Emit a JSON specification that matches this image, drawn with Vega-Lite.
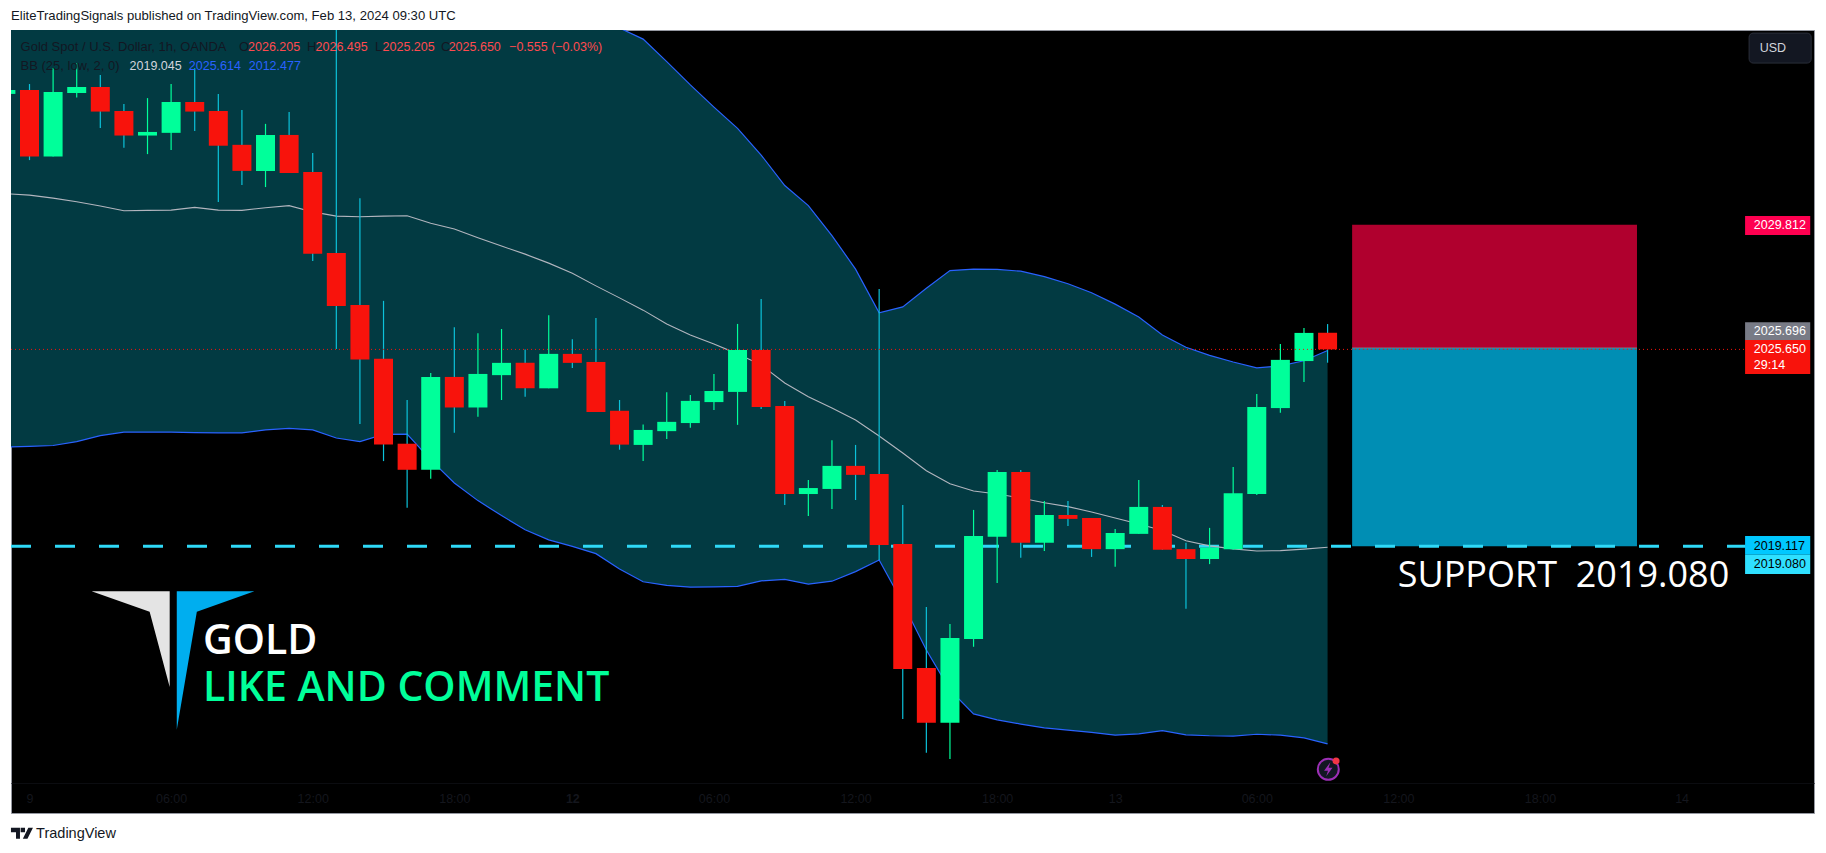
{"$schema":"https://vega.github.io/schema/vega-lite/v6.json","width":1803,"height":783,"autosize":"none","padding":{"left":11,"top":30,"right":12,"bottom":40},"background":"#ffffff","view":{"fill":"#000000","stroke":"#9598a1","strokeWidth":1},"title":{"text":"EliteTradingSignals published on TradingView.com, Feb 13, 2024 09:30 UTC","anchor":"start","frame":"group","offset":7,"font":"Liberation Sans","fontSize":13.1,"fontWeight":"normal","color":"#131722"},"config":{"axis":{"grid":false,"ticks":false,"title":null,"labelFont":"Liberation Sans","labelFontSize":12.5,"labelColor":"#14161d","domainColor":"#0b0c10"}},"resolve":{"scale":{"color":"independent"}},"datasets":{"candles":[{"bar":0,"o":2034.18,"h":2034.31,"l":2034.18,"c":2034.31,"upper":2039.32,"basis":2030.85,"lower":2022.39},{"bar":1,"o":2034.31,"h":2034.51,"l":2031.97,"c":2032.09,"upper":2039.2,"basis":2030.8,"lower":2022.41},{"bar":2,"o":2032.09,"h":2035.04,"l":2032.09,"c":2034.24,"upper":2038.96,"basis":2030.7,"lower":2022.44},{"bar":3,"o":2034.21,"h":2035.2,"l":2034.06,"c":2034.41,"upper":2038.58,"basis":2030.58,"lower":2022.57},{"bar":4,"o":2034.41,"h":2034.81,"l":2033.04,"c":2033.59,"upper":2038.1,"basis":2030.44,"lower":2022.77},{"bar":5,"o":2033.61,"h":2033.84,"l":2032.38,"c":2032.79,"upper":2037.67,"basis":2030.28,"lower":2022.89},{"bar":6,"o":2032.79,"h":2034.04,"l":2032.17,"c":2032.91,"upper":2037.68,"basis":2030.29,"lower":2022.89},{"bar":7,"o":2032.88,"h":2034.51,"l":2032.31,"c":2033.91,"upper":2037.72,"basis":2030.3,"lower":2022.89},{"bar":8,"o":2033.91,"h":2035.04,"l":2032.94,"c":2033.59,"upper":2037.9,"basis":2030.39,"lower":2022.87},{"bar":9,"o":2033.61,"h":2034.18,"l":2030.57,"c":2032.45,"upper":2037.75,"basis":2030.3,"lower":2022.86},{"bar":10,"o":2032.48,"h":2033.64,"l":2031.14,"c":2031.61,"upper":2037.73,"basis":2030.29,"lower":2022.86},{"bar":11,"o":2031.61,"h":2033.18,"l":2031.07,"c":2032.81,"upper":2037.8,"basis":2030.38,"lower":2022.96},{"bar":12,"o":2032.81,"h":2033.58,"l":2031.54,"c":2031.54,"upper":2037.88,"basis":2030.45,"lower":2023.01},{"bar":13,"o":2031.57,"h":2032.21,"l":2028.6,"c":2028.84,"upper":2037.52,"basis":2030.24,"lower":2022.96},{"bar":14,"o":2028.87,"h":2036.6,"l":2025.66,"c":2027.1,"upper":2037.52,"basis":2030.1,"lower":2022.69},{"bar":15,"o":2027.13,"h":2030.7,"l":2023.16,"c":2025.31,"upper":2037.58,"basis":2030.08,"lower":2022.57},{"bar":16,"o":2025.34,"h":2027.27,"l":2021.92,"c":2022.47,"upper":2037.4,"basis":2030.1,"lower":2022.81},{"bar":17,"o":2022.5,"h":2023.96,"l":2020.36,"c":2021.63,"upper":2037.4,"basis":2030.11,"lower":2022.82},{"bar":18,"o":2021.63,"h":2024.86,"l":2021.33,"c":2024.73,"upper":2037.76,"basis":2029.86,"lower":2021.96},{"bar":19,"o":2024.73,"h":2026.39,"l":2022.87,"c":2023.71,"upper":2038.15,"basis":2029.67,"lower":2021.19},{"bar":20,"o":2023.71,"h":2026.19,"l":2023.4,"c":2024.83,"upper":2038.16,"basis":2029.38,"lower":2020.6},{"bar":21,"o":2024.79,"h":2026.33,"l":2023.96,"c":2025.2,"upper":2038.1,"basis":2029.1,"lower":2020.1},{"bar":22,"o":2025.2,"h":2025.65,"l":2024.07,"c":2024.35,"upper":2038.04,"basis":2028.83,"lower":2019.63},{"bar":23,"o":2024.35,"h":2026.79,"l":2024.35,"c":2025.5,"upper":2037.78,"basis":2028.53,"lower":2019.29},{"bar":24,"o":2025.5,"h":2025.99,"l":2025.03,"c":2025.2,"upper":2037.32,"basis":2028.19,"lower":2019.07},{"bar":25,"o":2025.23,"h":2026.7,"l":2023.56,"c":2023.56,"upper":2036.7,"basis":2027.77,"lower":2018.83},{"bar":26,"o":2023.6,"h":2023.96,"l":2022.3,"c":2022.47,"upper":2036.38,"basis":2027.37,"lower":2018.32},{"bar":27,"o":2022.46,"h":2023.14,"l":2021.92,"c":2022.96,"upper":2036.01,"basis":2026.96,"lower":2017.89},{"bar":28,"o":2022.92,"h":2024.22,"l":2022.66,"c":2023.23,"upper":2035.26,"basis":2026.5,"lower":2017.77},{"bar":29,"o":2023.19,"h":2024.13,"l":2023.03,"c":2023.93,"upper":2034.48,"basis":2026.13,"lower":2017.71},{"bar":30,"o":2023.89,"h":2024.83,"l":2023.63,"c":2024.26,"upper":2033.74,"basis":2025.83,"lower":2017.72},{"bar":31,"o":2024.23,"h":2026.5,"l":2023.13,"c":2025.63,"upper":2033.03,"basis":2025.5,"lower":2017.74},{"bar":32,"o":2025.63,"h":2027.33,"l":2023.66,"c":2023.73,"upper":2032.14,"basis":2025.13,"lower":2017.92},{"bar":33,"o":2023.76,"h":2023.93,"l":2020.45,"c":2020.82,"upper":2031.12,"basis":2024.53,"lower":2017.97},{"bar":34,"o":2020.82,"h":2021.29,"l":2020.09,"c":2021.02,"upper":2030.45,"basis":2024.07,"lower":2017.81},{"bar":35,"o":2020.99,"h":2022.62,"l":2020.32,"c":2021.76,"upper":2029.45,"basis":2023.69,"lower":2017.91},{"bar":36,"o":2021.76,"h":2022.46,"l":2020.62,"c":2021.46,"upper":2028.33,"basis":2023.29,"lower":2018.23},{"bar":37,"o":2021.49,"h":2027.67,"l":2018.62,"c":2019.12,"upper":2026.87,"basis":2022.76,"lower":2018.62},{"bar":38,"o":2019.15,"h":2020.45,"l":2013.31,"c":2014.98,"upper":2027.07,"basis":2022.19,"lower":2017.18},{"bar":39,"o":2015.01,"h":2017.05,"l":2012.18,"c":2013.18,"upper":2027.69,"basis":2021.6,"lower":2015.61},{"bar":40,"o":2013.18,"h":2016.48,"l":2011.97,"c":2016.01,"upper":2028.28,"basis":2021.16,"lower":2014.28},{"bar":41,"o":2015.98,"h":2020.29,"l":2015.72,"c":2019.42,"upper":2028.33,"basis":2020.92,"lower":2013.48},{"bar":42,"o":2019.39,"h":2021.62,"l":2017.85,"c":2021.56,"upper":2028.32,"basis":2020.82,"lower":2013.28},{"bar":43,"o":2021.56,"h":2021.62,"l":2018.69,"c":2019.19,"upper":2028.26,"basis":2020.69,"lower":2013.14},{"bar":44,"o":2019.19,"h":2020.59,"l":2018.92,"c":2020.12,"upper":2028.08,"basis":2020.53,"lower":2013.01},{"bar":45,"o":2020.12,"h":2020.59,"l":2019.75,"c":2019.99,"upper":2027.84,"basis":2020.4,"lower":2012.94},{"bar":46,"o":2020.02,"h":2020.02,"l":2018.72,"c":2018.98,"upper":2027.54,"basis":2020.22,"lower":2012.86},{"bar":47,"o":2018.98,"h":2019.65,"l":2018.39,"c":2019.52,"upper":2027.16,"basis":2020.02,"lower":2012.77},{"bar":48,"o":2019.49,"h":2021.29,"l":2019.49,"c":2020.39,"upper":2026.73,"basis":2019.82,"lower":2012.81},{"bar":49,"o":2020.39,"h":2020.45,"l":2018.96,"c":2018.96,"upper":2026.13,"basis":2019.6,"lower":2012.92},{"bar":50,"o":2018.98,"h":2019.19,"l":2016.99,"c":2018.65,"upper":2025.72,"basis":2019.26,"lower":2012.78},{"bar":51,"o":2018.65,"h":2019.69,"l":2018.48,"c":2019.03,"upper":2025.45,"basis":2019.09,"lower":2012.75},{"bar":52,"o":2018.98,"h":2021.72,"l":2018.96,"c":2020.85,"upper":2025.23,"basis":2018.99,"lower":2012.74},{"bar":53,"o":2020.82,"h":2024.16,"l":2020.79,"c":2023.73,"upper":2025.03,"basis":2018.92,"lower":2012.8},{"bar":54,"o":2023.69,"h":2025.83,"l":2023.53,"c":2025.3,"upper":2025.1,"basis":2018.93,"lower":2012.77},{"bar":55,"o":2025.26,"h":2026.36,"l":2024.56,"c":2026.2,"upper":2025.27,"basis":2018.98,"lower":2012.68},{"bar":56,"o":2026.205,"h":2026.495,"l":2025.205,"c":2025.65,"upper":2025.614,"basis":2019.045,"lower":2012.477}],"position":[{"bar":57.04,"barEnd":69.11,"price":2029.812,"priceEnd":2025.696,"zone":"stop"},{"bar":57.04,"barEnd":69.11,"price":2025.696,"priceEnd":2019.08,"zone":"target"}],"entry":[{"bar":57.04,"barEnd":69.11,"price":2025.696}],"support":[{"bar":0.216,"barEnd":73.72,"price":2019.08}],"last":[{"bar":0.216,"barEnd":73.72,"price":2025.65}],"tags":[{"bar":73.69,"barEnd":76.45,"price":2030.1,"priceEnd":2029.47,"kind":"stop"},{"bar":73.69,"barEnd":76.45,"price":2026.56,"priceEnd":2025.96,"kind":"entry"},{"bar":73.69,"barEnd":76.45,"price":2025.96,"priceEnd":2024.83,"kind":"last"},{"bar":73.69,"barEnd":76.45,"price":2019.42,"priceEnd":2018.79,"kind":"level"},{"bar":73.69,"barEnd":76.45,"price":2018.79,"priceEnd":2018.15,"kind":"support"}],"button":[{"bar":73.86,"barEnd":76.49,"price":2036.21,"priceEnd":2035.21}],"labels":[{"bar":0.62,"price":2035.76,"text":"Gold Spot / U.S. Dollar, 1h, OANDA","role":"ink"},{"bar":9.88,"price":2035.76,"text":"O","role":"ink"},{"bar":10.26,"price":2035.76,"text":"2026.205","role":"red"},{"bar":12.76,"price":2035.76,"text":"H","role":"ink"},{"bar":13.12,"price":2035.76,"text":"2026.495","role":"red"},{"bar":15.64,"price":2035.76,"text":"L","role":"ink"},{"bar":15.96,"price":2035.76,"text":"2025.205","role":"red"},{"bar":18.44,"price":2035.76,"text":"C","role":"ink"},{"bar":18.76,"price":2035.76,"text":"2025.650","role":"red"},{"bar":21.32,"price":2035.76,"text":"−0.555 (−0.03%)","role":"red"},{"bar":0.62,"price":2035.12,"text":"BB (25, low, 2, 0)","role":"ink"},{"bar":5.24,"price":2035.12,"text":"2019.045","role":"pale"},{"bar":7.75,"price":2035.12,"text":"2025.614","role":"blue"},{"bar":10.29,"price":2035.12,"text":"2012.477","role":"blue"},{"bar":74.31,"price":2035.7,"text":"USD","role":"pale"},{"bar":74.06,"price":2029.79,"text":"2029.812","role":"white"},{"bar":74.06,"price":2026.26,"text":"2025.696","role":"white"},{"bar":74.06,"price":2025.65,"text":"2025.650","role":"white"},{"bar":74.06,"price":2025.14,"text":"29:14","role":"white"},{"bar":74.06,"price":2019.1,"text":"2019.117","role":"black"},{"bar":74.06,"price":2018.47,"text":"2019.080","role":"black"}],"logoGrey":[{"bar":3.63,"price":2017.57,"priceEnd":2017.57},{"bar":6.09,"price":2017.57,"priceEnd":2016.89},{"bar":6.94,"price":2017.57,"priceEnd":2014.38}],"logoBlue":[{"bar":7.24,"price":2017.57,"priceEnd":2012.95},{"bar":8.09,"price":2017.57,"priceEnd":2016.89},{"bar":10.53,"price":2017.57,"priceEnd":2017.57}]},"data":{"name":"candles"},"encoding":{"x":{"field":"bar","type":"quantitative","scale":{"domain":[0.216,76.61],"nice":false,"zero":false,"padding":0},"axis":{"orient":"bottom","offset":-30,"values":[1,7,13,19,24,30,36,42,47,53,59,65,71],"labelExpr":"{'1':'9','7':'06:00','13':'12:00','19':'18:00','24':'12','30':'06:00','36':'12:00','42':'18:00','47':'13','53':'06:00','59':'12:00','65':'18:00','71':'14'}[datum.value]","labelPadding":9,"labelOverlap":false,"labelFontWeight":{"condition":{"test":"datum.value==24","value":"bold"},"value":"normal"}}},"y":{"field":"price","type":"quantitative","scale":{"domain":[2010.17,2036.314],"nice":false,"zero":false},"axis":{"orient":"right","offset":-68.5,"values":[2012,2014,2016,2018,2020,2022,2024,2026,2028,2030,2032,2034],"format":".3f","labelPadding":8,"labelOverlap":false}}},"layer":[{"data":{"name":"candles"},"mark":{"type":"area","orient":"vertical","clip":true,"color":"#023a42"},"encoding":{"y":{"field":"upper","type":"quantitative","scale":{"domain":[2010.17,2036.314],"nice":false,"zero":false},"axis":null},"y2":{"field":"lower"}}},{"data":{"name":"position"},"mark":{"type":"rect"},"encoding":{"x2":{"field":"barEnd"},"y2":{"field":"priceEnd"},"color":{"field":"zone","type":"nominal","scale":{"domain":["stop","target"],"range":["#b0002e","#008eb4"]},"legend":null}}},{"data":{"name":"entry"},"mark":{"type":"rule","color":"#787b86","strokeWidth":1},"encoding":{"x2":{"field":"barEnd"}}},{"data":{"name":"support"},"mark":{"type":"rule","color":"#2fd9f7","strokeWidth":3,"strokeDash":[20,24]},"encoding":{"x2":{"field":"barEnd"}}},{"data":{"name":"candles"},"mark":{"type":"line","clip":true,"color":"#2962ff","strokeWidth":1.2},"encoding":{"y":{"field":"upper","type":"quantitative","scale":{"domain":[2010.17,2036.314],"nice":false,"zero":false},"axis":null}}},{"data":{"name":"candles"},"mark":{"type":"line","clip":true,"color":"#2962ff","strokeWidth":1.2},"encoding":{"y":{"field":"lower","type":"quantitative","scale":{"domain":[2010.17,2036.314],"nice":false,"zero":false},"axis":null}}},{"data":{"name":"candles"},"mark":{"type":"line","clip":true,"color":"#b2b5be","strokeWidth":1.1},"encoding":{"y":{"field":"basis","type":"quantitative","scale":{"domain":[2010.17,2036.314],"nice":false,"zero":false},"axis":null}}},{"data":{"name":"candles"},"mark":{"type":"rule","clip":true,"strokeWidth":1.2},"encoding":{"y":{"field":"h","type":"quantitative","scale":{"domain":[2010.17,2036.314],"nice":false,"zero":false},"axis":null},"y2":{"field":"l"},"color":{"condition":{"test":"datum.c>=datum.o","value":"#00ff9a"},"value":"#0cc2da"}}},{"data":{"name":"candles"},"mark":{"type":"bar","clip":true,"size":19},"encoding":{"y":{"field":"o","type":"quantitative","scale":{"domain":[2010.17,2036.314],"nice":false,"zero":false},"axis":null},"y2":{"field":"c"},"color":{"condition":{"test":"datum.c>=datum.o","value":"#00ff9a"},"value":"#f8130c"}}},{"data":{"name":"last"},"mark":{"type":"rule","color":"#f8130c","strokeWidth":1,"strokeDash":[1,3]},"encoding":{"x2":{"field":"barEnd"}}},{"data":{"name":"tags"},"mark":{"type":"rect"},"encoding":{"x2":{"field":"barEnd"},"y2":{"field":"priceEnd"},"color":{"field":"kind","type":"nominal","scale":{"domain":["stop","entry","last","level","support"],"range":["#ff0050","#787b86","#f8130c","#00c8ff","#2fe0ff"]},"legend":null}}},{"data":{"name":"button"},"mark":{"type":"rect","fill":"#131722","stroke":"#2a2e39","strokeWidth":1,"cornerRadius":4},"encoding":{"x2":{"field":"barEnd"},"y2":{"field":"priceEnd"}}},{"data":{"name":"logoGrey"},"mark":{"type":"area","orient":"vertical","color":"#e4e4e4"},"encoding":{"y2":{"field":"priceEnd"}}},{"data":{"name":"logoBlue"},"mark":{"type":"area","orient":"vertical","color":"#00aeef"},"encoding":{"y2":{"field":"priceEnd"}}},{"data":{"name":"labels"},"mark":{"type":"text","align":"left","baseline":"middle","font":"Liberation Sans"},"encoding":{"text":{"field":"text"},"size":{"condition":{"test":"datum.role=='ink'","value":13},"value":12.5},"color":{"field":"role","type":"nominal","scale":{"domain":["ink","red","pale","blue","white","black"],"range":["#131722","#ff4a4f","#d1d4dc","#2962ff","#ffffff","#000000"]},"legend":null}}},{"data":{"values":[{"bar":58.97,"price":2017.73,"text":"SUPPORT\u00a0\u00a02019.080"}]},"mark":{"type":"text","align":"left","baseline":"alphabetic","font":"Open Sans","fontSize":36,"color":"#ffffff"},"encoding":{"text":{"field":"text"}}},{"data":{"values":[{"bar":8.35,"price":2015.48,"text":"GOLD"}]},"mark":{"type":"text","align":"left","baseline":"alphabetic","font":"Open Sans","fontSize":41,"fontWeight":600,"color":"#ffffff"},"encoding":{"text":{"field":"text"}}},{"data":{"values":[{"bar":8.35,"price":2013.9,"text":"LIKE AND COMMENT"}]},"mark":{"type":"text","align":"left","baseline":"alphabetic","font":"Open Sans","fontSize":41,"fontWeight":600,"color":"#00ff9a"},"encoding":{"text":{"field":"text"}}},{"data":{"values":[{"bar":56.03,"price":2011.63}]},"mark":{"type":"point","shape":"circle","size":440,"filled":true,"fill":"#131722","stroke":"#9c2fb5","strokeWidth":2,"opacity":1}},{"data":{"values":[{"bar":56.03,"price":2011.63}]},"mark":{"type":"point","shape":"M.15 -.5 L-.3 .1 H-.02 L-.15 .5 L.3 -.1 H.02 Z","size":784,"filled":true,"fill":"#9c2fb5","opacity":1}},{"data":{"values":[{"bar":56.36,"price":2011.91}]},"mark":{"type":"point","shape":"circle","size":49,"filled":true,"fill":"#f23645","opacity":1}},{"data":{"values":[{"bar":0.68,"price":2009.49}]},"mark":{"type":"point","shape":"M-.5 -.25 H-.09 V.25 H-.27 V-.05 H-.5 Z M.5 -.25 L.25 .25 H.04 L.29 -.25 Z M-.06 -.25 H.14 V-.05 H-.06 Z","size":1936,"filled":true,"fill":"#131722","opacity":1}},{"data":{"values":[{"bar":1.28,"price":2009.46,"text":"TradingView"}]},"mark":{"type":"text","align":"left","baseline":"middle","font":"Liberation Sans","fontSize":14.5,"color":"#131722"},"encoding":{"text":{"field":"text"}}}]}
